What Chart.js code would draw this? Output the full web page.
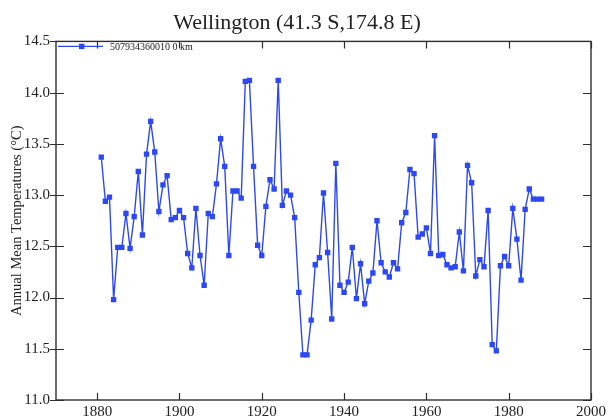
<!DOCTYPE html>
<html>
<head>
<meta charset="utf-8">
<script src="https://cdn.jsdelivr.net/npm/chart.js@4/dist/chart.umd.min.js"></script>
<style>
  html, body { margin: 0; padding: 0; background: #ffffff; }
  #wrap { width: 609px; height: 417px; }
</style>
</head>
<body>
<div id="wrap"><canvas id="c" width="609" height="417"></canvas></div>
<script>
// ---- data ----
const chartTitle = 'Wellington (41.3 S,174.8 E)';
const seriesLabel = '507934360010 0 km';
const yAxisTitle = 'Annual Mean Temperatures (\u00B0C)';

const years = [
  1881, 1882, 1883, 1884, 1885, 1886, 1887, 1888, 1889, 1890,
  1891, 1892, 1893, 1894, 1895, 1896, 1897, 1898, 1899, 1900,
  1901, 1902, 1903, 1904, 1905, 1906, 1907, 1908, 1909, 1910,
  1911, 1912, 1913, 1914, 1915, 1916, 1917, 1918, 1919, 1920,
  1921, 1922, 1923, 1924, 1925, 1926, 1927, 1928, 1929, 1930,
  1931, 1932, 1933, 1934, 1935, 1936, 1937, 1938, 1939, 1940,
  1941, 1942, 1943, 1944, 1945, 1946, 1947, 1948, 1949, 1950,
  1951, 1952, 1953, 1954, 1955, 1956, 1957, 1958, 1959, 1960,
  1961, 1962, 1963, 1964, 1965, 1966, 1967, 1968, 1969, 1970,
  1971, 1972, 1973, 1974, 1975, 1976, 1977, 1978, 1979, 1980,
  1981, 1982, 1983, 1984, 1985, 1986, 1987, 1988
];

const temps = [
  13.37, 12.94, 12.98, 11.98, 12.49, 12.49, 12.82, 12.48, 12.79, 13.23,
  12.61, 13.40, 13.72, 13.42, 12.84, 13.10, 13.19, 12.76, 12.78, 12.85,
  12.78, 12.43, 12.29, 12.87, 12.41, 12.12, 12.82, 12.79, 13.11, 13.55,
  13.28, 12.41, 13.04, 13.04, 12.97, 14.11, 14.12, 13.28, 12.51, 12.41,
  12.89, 13.15, 13.06, 14.12, 12.90, 13.04, 13.00, 12.78, 12.05, 11.44,
  11.44, 11.78, 12.32, 12.39, 13.02, 12.44, 11.79, 13.31, 12.12, 12.05,
  12.15, 12.49, 11.99, 12.33, 11.94, 12.16, 12.24, 12.75, 12.34, 12.25,
  12.20, 12.34, 12.28, 12.73, 12.83, 13.25, 13.21, 12.59, 12.62, 12.68,
  12.43, 13.58, 12.41, 12.42, 12.32, 12.29, 12.30, 12.64, 12.26, 13.29,
  13.12, 12.21, 12.37, 12.30, 12.85, 11.54, 11.48, 12.31, 12.40, 12.31,
  12.87, 12.57, 12.17, 12.86, 13.06, 12.96, 12.96, 12.96
];

const xTicks = [1880, 1900, 1920, 1940, 1960, 1980, 2000];
const yTicks = [11.0, 11.5, 12.0, 12.5, 13.0, 13.5, 14.0, 14.5];
const xRange = [1870, 2000];
const yRange = [11.0, 14.5];

// ---- styling ----
const SERIF = "'Liberation Serif', 'DejaVu Serif', serif";
const BLUE = '#2c48f6';
const FRAME = '#2e2e2e';

const points = years.map((yr, i) => ({ x: yr, y: temps[i] }));

// frame, inward tick marks and in-plot legend
const framePlugin = {
  id: 'frameTicks',
  afterDraw(chart) {
    const { ctx, chartArea: a, scales } = chart;
    const xs = scales.x, ys = scales.y;
    ctx.save();
    ctx.strokeStyle = FRAME;
    ctx.lineWidth = 1.4;
    ctx.strokeRect(a.left, a.top, a.right - a.left, a.bottom - a.top);
    ctx.lineWidth = 1.2;
    ctx.beginPath();
    xTicks.forEach(v => {
      const px = Math.round(xs.getPixelForValue(v)) + 0.5;
      ctx.moveTo(px, a.bottom); ctx.lineTo(px, a.bottom - 7);
      ctx.moveTo(px, a.top); ctx.lineTo(px, a.top + 7);
    });
    yTicks.forEach(v => {
      const py = Math.round(ys.getPixelForValue(v)) + 0.5;
      ctx.moveTo(a.left - 6, py); ctx.lineTo(a.left + 8, py);
      ctx.moveTo(a.right, py); ctx.lineTo(a.right - 8, py);
    });
    ctx.stroke();

    // legend inside plot, top-left
    const ds = chart.data.datasets[0];
    const ly = a.top + 5;
    ctx.strokeStyle = ds.borderColor;
    ctx.lineWidth = 1.4;
    ctx.beginPath();
    ctx.moveTo(a.left + 2, ly); ctx.lineTo(a.left + 47, ly);
    ctx.stroke();
    ctx.fillStyle = ds.pointBackgroundColor;
    ctx.fillRect(a.left + 23, ly - 2.7, 5.4, 5.4);
    ctx.fillStyle = '#222';
    ctx.font = '10px ' + SERIF;
    ctx.textBaseline = 'middle';
    ctx.textAlign = 'left';
    ctx.fillText(ds.label, a.left + 54, ly + 0.5);
    ctx.restore();
  }
};

new Chart(document.getElementById('c'), {
  type: 'line',
  data: {
    datasets: [{
      label: seriesLabel,
      data: points,
      borderColor: BLUE,
      backgroundColor: BLUE,
      pointBackgroundColor: BLUE,
      pointBorderColor: BLUE,
      borderWidth: 1.4,
      pointStyle: 'rect',
      pointRadius: 3.8,
      pointBorderWidth: 0,
      tension: 0,
      fill: false
    }]
  },
  options: {
    responsive: false,
    devicePixelRatio: 1,
    animation: false,
    layout: { padding: { left: 0, right: 15, top: 0, bottom: 0 } },
    plugins: {
      legend: { display: false },
      tooltip: { enabled: false },
      title: {
        display: true,
        text: chartTitle,
        color: '#222',
        font: { family: SERIF, size: 22, weight: 'normal' },
        padding: { top: 10, bottom: 5 }
      }
    },
    scales: {
      x: {
        type: 'linear',
        min: xRange[0],
        max: xRange[1],
        afterBuildTicks: s => { s.ticks = xTicks.map(v => ({ value: v })); },
        afterFit: s => { s.height = 17; },
        grid: { display: true, drawOnChartArea: false, drawTicks: false },
        border: { display: false },
        ticks: {
          color: '#222',
          padding: 3,
          maxRotation: 0,
          autoSkip: false,
          font: { family: SERIF, size: 15 },
          callback: v => String(v)
        }
      },
      y: {
        type: 'linear',
        min: yRange[0],
        max: yRange[1],
        afterBuildTicks: s => { s.ticks = yTicks.map(v => ({ value: v })); },
        afterFit: s => { s.width = 56; },
        grid: { display: true, drawOnChartArea: false, drawTicks: false },
        border: { display: false },
        title: {
          display: true,
          text: yAxisTitle,
          color: '#222',
          font: { family: SERIF, size: 14.5, weight: 'normal' },
          padding: { top: 8, bottom: 0 }
        },
        ticks: {
          color: '#222',
          padding: 6,
          autoSkip: false,
          font: { family: SERIF, size: 15 },
          callback: v => Number(v).toFixed(1)
        }
      }
    }
  },
  plugins: [framePlugin]
});
</script>
</body>
</html>
